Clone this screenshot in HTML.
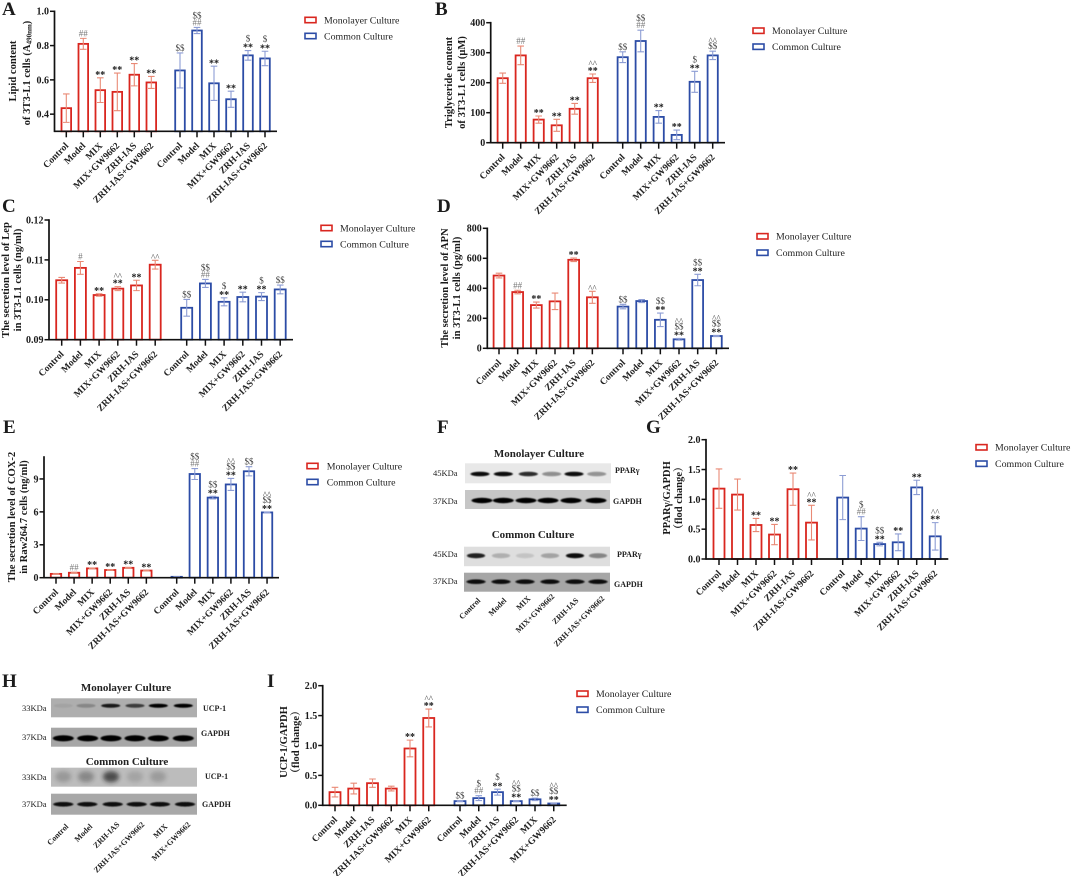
<!DOCTYPE html>
<html lang="en">
<head>
<meta charset="utf-8">
<title>Multi-panel bar chart figure</title>
<style>
html,body{margin:0;padding:0;background:#fff;}
#figure{display:block;width:1072px;height:876px;filter:blur(0.3px);}
text{font-family:"Liberation Serif","Noto Serif CJK SC",serif;}
.yl{font-size:10.6px;font-weight:bold;fill:#1a1a1a;text-anchor:middle;}
.letter{font-size:19px;font-weight:bold;fill:#1c1c1c;}
.blot-title{font-size:11px;font-weight:bold;fill:#222;text-anchor:middle;}
.kda{font-size:8.5px;fill:#222;}
.prot{font-size:8px;font-weight:bold;fill:#222;}
</style>
</head>
<body>
<svg id="figure" xmlns="http://www.w3.org/2000/svg" width="1072" height="876" viewBox="0 0 1072 876">
  <defs>
    <filter id="blur-band" x="-40%" y="-150%" width="180%" height="400%"><feGaussianBlur stdDeviation="0.9 0.6"/></filter>
    <filter id="blur-smear" x="-40%" y="-100%" width="180%" height="300%"><feGaussianBlur stdDeviation="2.2 2"/></filter>
  </defs>
  <g>
    <text class="letter" x="2" y="15">A</text>
    <text class="letter" x="435" y="15">B</text>
    <text class="letter" x="2" y="212">C</text>
    <text class="letter" x="437" y="212">D</text>
    <text class="letter" x="3" y="433">E</text>
    <text class="letter" x="437" y="433">F</text>
    <text class="letter" x="646" y="433">G</text>
    <text class="letter" x="2" y="687">H</text>
    <text class="letter" x="267" y="687">I</text>
  </g>
  <g>
    <text class="yl" transform="translate(16,71) rotate(-90)">Lipid content</text>
    <text class="yl" transform="translate(30,73) rotate(-90)">of 3T3-L1 cells (A<tspan font-size="7" dy="1.5">490nm</tspan><tspan dy="-1.5">)</tspan></text>
    <text class="yl" transform="translate(452,82.5) rotate(-90)">Triglyceride content</text>
    <text class="yl" transform="translate(465,82.5) rotate(-90)">of 3T3-L1 cells (μM)</text>
    <text class="yl" transform="translate(9,280) rotate(-90)">The secretion level of  Lep</text>
    <text class="yl" transform="translate(21,280) rotate(-90)">in 3T3-L1 cells (ng/ml)</text>
    <text class="yl" transform="translate(448,288) rotate(-90)">The secretion level of APN</text>
    <text class="yl" transform="translate(460,288) rotate(-90)">in 3T3-L1 cells (pg/ml)</text>
    <text class="yl" transform="translate(15,517) rotate(-90)">The secretion level of COX-2</text>
    <text class="yl" transform="translate(27,517) rotate(-90)">in Raw264.7 cells (ng/ml)</text>
    <text class="yl" transform="translate(670,498) rotate(-90)">PPARγ/GAPDH</text>
    <text class="yl" transform="translate(682,498) rotate(-90)">（flod change）</text>
    <text class="yl" transform="translate(287,742) rotate(-90)">UCP-1/GAPDH</text>
    <text class="yl" transform="translate(299,742) rotate(-90)">（flod change）</text>
  </g>
  <g>
    <text class="blot-title" x="539" y="457">Monolayer Culture</text>
    <text class="blot-title" x="533" y="538">Common Culture</text>
    <text class="kda" x="433" y="476">45KDa</text>
    <text class="kda" x="433" y="504">37KDa</text>
    <text class="kda" x="433" y="557">45KDa</text>
    <text class="kda" x="433" y="584">37KDa</text>
    <text class="prot" x="615" y="473">PPARγ</text>
    <text class="prot" x="613" y="504">GAPDH</text>
    <text class="prot" x="617" y="557">PPARγ</text>
    <text class="prot" x="614" y="587">GAPDH</text>
    <text class="blot-title" x="126" y="691">Monolayer Culture</text>
    <text class="blot-title" x="127" y="765">Common Culture</text>
    <text class="kda" x="22" y="711">33KDa</text>
    <text class="kda" x="22" y="740">37KDa</text>
    <text class="kda" x="22" y="780">33KDa</text>
    <text class="kda" x="22" y="807">37KDa</text>
    <text class="prot" x="203" y="711">UCP-1</text>
    <text class="prot" x="201" y="736">GAPDH</text>
    <text class="prot" x="205" y="779">UCP-1</text>
    <text class="prot" x="202" y="807">GAPDH</text>
  </g>
</svg>
<script>
// Categories
const catsMain = ["Control","Model","MIX","MIX+GW9662","ZRH-IAS","ZRH-IAS+GW9662"];
const catsUcp = ["Control","Model","ZRH-IAS","ZRH-IAS+GW9662","MIX","MIX+GW9662"];
const seriesNames = ["Monolayer Culture","Common Culture"];

// Panel A
const aTicks = ["0.4","0.6","0.8","1.0"];
const aMono = [0.435,0.81,0.54,0.53,0.63,0.585];
const aMonoErr = [0.083,0.032,0.072,0.11,0.065,0.035];
const aCommon = [0.655,0.888,0.58,0.487,0.743,0.725];
const aCommonErr = [0.102,0.018,0.1,0.047,0.028,0.042];
const aMonoMarks = [[],["##"],["**"],["**"],["**"],["**"]];
const aCommonMarks = [["$$"],["##","$$"],["**"],["**"],["**","$"],["**","$"]];

// Panel B
const bTicks = ["0","100","200","300","400"];
const bMono = [215,291,77,58,113,215];
const bMonoErr = [17,31,12,20,18,14];
const bCommon = [285,339,86,26,203,291];
const bCommonErr = [18,36,21,16,35,14];
const bMonoMarks = [[],["##"],["**"],["**"],["**"],["**","^^"]];
const bCommonMarks = [["$$"],["##","$$"],["**"],["**"],["**","$"],["$$","^^"]];

// Panel C
const cTicks = ["0.09","0.10","0.11","0.12"];
const cMono = [0.1049,0.108,0.1012,0.1028,0.1036,0.1088];
const cMonoErr = [0.0007,0.0016,0.0003,0.0005,0.0013,0.0011];
const cCommon = [0.098,0.1041,0.0995,0.1007,0.1008,0.1026];
const cCommonErr = [0.0021,0.001,0.001,0.0012,0.001,0.0011];
const cMonoMarks = [[],["#"],["**"],["**","^^"],["**"],["^^"]];
const cCommonMarks = [["$$"],["##","$$"],["**","$"],["**"],["**","$"],["$$"]];

// Panel D
const dTicks = ["0","200","400","600","800"];
const dMono = [485,375,288,313,590,340];
const dMonoErr = [16,12,20,55,12,40];
const dCommon = [278,315,190,60,455,82];
const dCommonErr = [15,10,45,6,38,4];
const dMonoMarks = [[],["##"],["**"],[],["**"],["^^"]];
const dCommonMarks = [["$$"],[],["**","$$"],["**","$$","^^"],["**","$$"],["**","$$","^^"]];

// Panel E
const eTicks = ["0","3","6","9"];
const eMono = [0.35,0.45,0.85,0.7,0.9,0.65];
const eMonoErr = [0.02,0.04,0.03,0.03,0.04,0.03];
const eCommon = [0.08,9.45,7.3,8.5,9.7,5.95];
const eCommonErr = [0.01,0.5,0.12,0.55,0.42,0.05];
const eMonoMarks = [[],["##"],["**"],["**"],["**"],["**"]];
const eCommonMarks = [[],["##","$$"],["**","$$"],["**","$$","^^"],["$$"],["**","$$","^^"]];

// Panel G
const gTicks = ["0.0","0.5","1.0","1.5","2.0"];
const gMono = [1.18,1.08,0.57,0.41,1.17,0.61];
const gMonoErr = [0.33,0.26,0.11,0.17,0.27,0.29];
const gCommon = [1.03,0.51,0.25,0.28,1.2,0.38];
const gCommonErr = [0.37,0.2,0.03,0.14,0.12,0.23];
const gMonoMarks = [[],[],["**"],["**"],["**"],["**","^^"]];
const gCommonMarks = [[],["##","$"],["**","$$"],["**"],["**"],["**","^^"]];

// Panel I
const iTicks = ["0.0","0.5","1.0","1.5","2.0"];
const iMono = [0.22,0.28,0.37,0.28,0.95,1.46];
const iMonoErr = [0.08,0.09,0.07,0.04,0.14,0.15];
const iCommon = [0.07,0.12,0.22,0.07,0.1,0.03];
const iCommonErr = [0.01,0.04,0.05,0.01,0.02,0.01];
const iMonoMarks = [[],[],[],[],["**"],["**","^^"]];
const iCommonMarks = [["$$"],["##","$"],["**","$"],["**","$$","^^"],["$$"],["**","$$","^^"]];

// Western-blot band intensities (0..1), one per lane
const fPparMono = [1,1,0.85,0.4,1,0.38];
const fGapdhMono = [1,1,1,1,1,1];
const fPparCommon = [0.9,0.22,0.12,0.28,1,0.42];
const fGapdhCommon = [1,1,1,1,1,1];
const hUcpMono = [0.06,0.22,0.85,0.65,1,1];
const hGapdhMono = [1,1,1,1,1,1];
const hUcpCommon = [0.22,0.32,0.7,0.15,0.2,0];
const hGapdhCommon = [1,1,1,1,1,1];

const NS = "http://www.w3.org/2000/svg";
const RED = "#d9261f", BLUE = "#2c4ca6", RED_ERR = "#e98a76", BLUE_ERR = "#8d9dd4";
const root = document.getElementById("figure");

function mk(parent, tag, attrs, text) {
  const el = document.createElementNS(NS, tag);
  for (const k in attrs) el.setAttribute(k, attrs[k]);
  if (text !== undefined) el.textContent = text;
  parent.appendChild(el);
  return el;
}

function rotatedLabels(parent, labels, xs, y, size, key) {
  labels.forEach(function (label, i) {
    const t = mk(parent, "text", {
      transform: "translate(" + xs[i] + "," + y[i] + ") rotate(-45)",
      "text-anchor": "end", "font-size": size, "font-weight": "bold", fill: "#222"
    }, label);
    
    
  });
}

function drawMarks(parent, marks, cx, capY, key) {
  let cur = capY - 1.5;
  marks.forEach(function (m) {
    const star = m[0] === "*";
    const caret = m[0] === "^";
    const base = star ? cur + 1.6 : (caret ? cur + 1.5 : cur - 0.5);
    const t = mk(parent, "text", {
      x: cx, y: base, "text-anchor": "middle",
      "font-size": star ? 10 : 9, "font-weight": star ? "bold" : "normal",
      fill: star ? "#1a1a1a" : (m[0] === "#" ? "#777" : "#444")
    }, m);
    
    
    cur -= 7;
  });
}

function drawSeries(g, key, color, errColor, vals, errs, marks, x, y, barW, bottom) {
  vals.forEach(function (v, i) {
    const cx = x(i);
    const top = y(v);
    const hi = y(v + errs[i]);
    const lo = Math.min(y(v - errs[i]), bottom);
    const capW = 3.3;
    const barKey = key + '-' + i;
    const bar = mk(g, "rect", { x: cx - barW / 2, y: top, width: barW, height: bottom - top, fill: "#fff", stroke: color, "stroke-width": 1.8 });
    
    
    const err = mk(g, "path", {
      d: "M" + cx + " " + lo + "V" + hi + "M" + (cx - capW) + " " + hi + "H" + (cx + capW) + "M" + (cx - capW) + " " + lo + "H" + (cx + capW),
      fill: "none", stroke: errColor, "stroke-width": 1.1
    });
    
    
    drawMarks(g, marks[i], cx, hi, barKey);
  });
}

function drawLegend(parent, key, sx, y1, y2, tx) {
  [[y1, RED, seriesNames[0]], [y2, BLUE, seriesNames[1]]].forEach(function (row, i) {
    const entry = mk(parent, "g", {});
    
    
    const sw = mk(entry, "rect", { x: sx, y: row[0] - 2.7, width: 11, height: 5.4, fill: "#fff", stroke: row[1], "stroke-width": 1.6 });
    
    
    const t = mk(entry, "text", { x: tx, y: row[0] + 3.3, "font-size": 9.9, fill: "#222" }, row[2]);
    
    
  });
}

function drawPanel(c) {
  const g = mk(root, "g", {});
  
  
  const y = function (v) { return c.bottom - (v - c.min) / (c.max - c.min) * (c.bottom - c.top); };
  const xMono = function (i) { return c.x1 + c.step * i; };
  const xCommon = function (i) { return c.x2 + c.step * i; };

  drawSeries(g, c.key + '-monolayer', RED, RED_ERR, c.mono, c.monoErr, c.monoMarks, xMono, y, c.barW, c.bottom);
  drawSeries(g, c.key + '-common', BLUE, BLUE_ERR, c.common, c.commonErr, c.commonMarks, xCommon, y, c.barW, c.bottom);

  const yAxis = mk(g, "line", { x1: c.axisX, x2: c.axisX, y1: c.top - 0.8, y2: c.bottom + 0.8, stroke: "#111", "stroke-width": 1.7 });
  
  
  const xAxis = mk(g, "line", { x1: c.axisX, x2: c.axisEnd, y1: c.bottom, y2: c.bottom, stroke: "#111", "stroke-width": 1.7 });
  
  

  c.ticks.forEach(function (label) {
    const ty = y(parseFloat(label));
    const tick = mk(g, "line", { x1: c.axisX - 4.5, x2: c.axisX, y1: ty, y2: ty, stroke: "#111", "stroke-width": 1.5 });
    
    
    const t = mk(g, "text", { x: c.axisX - 5.5, y: ty + 3.4, "text-anchor": "end", "font-size": 10, "font-weight": "bold", fill: "#1a1a1a" }, label);
    
    
  });

  const allX = c.cats.map(function (_, i) { return xMono(i); }).concat(c.cats.map(function (_, i) { return xCommon(i); }));
  allX.forEach(function (tx) {
    const tick = mk(g, "line", { x1: tx, x2: tx, y1: c.bottom, y2: c.bottom + 6, stroke: "#111", "stroke-width": 1.5 });
    
    
  });
  const labels = c.cats.concat(c.cats);
  rotatedLabels(g, labels, allX.map(function (v) { return v + 2.7; }), allX.map(function () { return c.bottom + 15; }), 9.5, c.key);
  drawLegend(g, c.key, c.legend[0], c.legend[1], c.legend[2], c.legend[3]);
}

function drawBlot(key, x, y, w, h, bg, bandY, laneX, strengths, bandW, bandH, ink, smear) {
  const g = mk(root, "g", {});
  
  
  const panel = mk(g, "rect", { x: x, y: y, width: w, height: h, fill: bg });
  
  
  strengths.forEach(function (s, i) {
    if (s <= 0) return;
    const band = mk(g, "ellipse", {
      cx: laneX[i], cy: bandY, rx: bandW / 2, ry: bandH / 2,
      fill: ink, opacity: s, filter: smear ? "url(#blur-smear)" : "url(#blur-band)"
    });
    
    
  });
}

drawPanel({ key:"a", cats:catsMain, ticks:aTicks, min:0.3, max:1.0, top:11.3, bottom:131.3, axisX:54.5, axisEnd:277, x1:66.3, x2:180, step:17, barW:9.6, mono:aMono, monoErr:aMonoErr, monoMarks:aMonoMarks, common:aCommon, commonErr:aCommonErr, commonMarks:aCommonMarks, legend:[305,20,36,324] });
drawPanel({ key:"b", cats:catsMain, ticks:bTicks, min:0, max:400, top:22.7, bottom:142.7, axisX:490.7, axisEnd:725, x1:502.7, x2:622.7, step:18, barW:10.2, mono:bMono, monoErr:bMonoErr, monoMarks:bMonoMarks, common:bCommon, commonErr:bCommonErr, commonMarks:bCommonMarks, legend:[753,30.7,46.7,772] });
drawPanel({ key:"c", cats:catsMain, ticks:cTicks, min:0.09, max:0.12, top:220, bottom:339.7, axisX:49, axisEnd:293, x1:61.7, x2:186.7, step:18.7, barW:11, mono:cMono, monoErr:cMonoErr, monoMarks:cMonoMarks, common:cCommon, commonErr:cCommonErr, commonMarks:cCommonMarks, legend:[321,228,244,340] });
drawPanel({ key:"d", cats:catsMain, ticks:dTicks, min:0, max:800, top:228.3, bottom:348.3, axisX:487.3, axisEnd:729, x1:499, x2:623, step:18.67, barW:10.8, mono:dMono, monoErr:dMonoErr, monoMarks:dMonoMarks, common:dCommon, commonErr:dCommonErr, commonMarks:dCommonMarks, legend:[757,236.3,252.7,776] });
drawPanel({ key:"e", cats:catsMain, ticks:eTicks, min:0, max:11, top:457, bottom:577.7, axisX:44, axisEnd:279, x1:56, x2:176.7, step:18.07, barW:10.4, mono:eMono, monoErr:eMonoErr, monoMarks:eMonoMarks, common:eCommon, commonErr:eCommonErr, commonMarks:eCommonMarks, legend:[307,466,482,326.7] });
drawPanel({ key:"g", cats:catsMain, ticks:gTicks, min:0, max:2, top:439.7, bottom:559, axisX:706, axisEnd:948.3, x1:719, x2:842.7, step:18.5, barW:11, mono:gMono, monoErr:gMonoErr, monoMarks:gMonoMarks, common:gCommon, commonErr:gCommonErr, commonMarks:gCommonMarks, legend:[976,447.3,463.7,995] });
drawPanel({ key:"i", cats:catsUcp, ticks:iTicks, min:0, max:2, top:685.7, bottom:805.3, axisX:322.7, axisEnd:566.7, x1:335, x2:460, step:18.75, barW:11, mono:iMono, monoErr:iMonoErr, monoMarks:iMonoMarks, common:iCommon, commonErr:iCommonErr, commonMarks:iCommonMarks, legend:[577,693.7,709.7,596] });

// Panel F blots
const fLanesTop = [480,503.3,528.3,551.7,574,596.7];
const fLanesBot = [476,501,525,550,575,598];
drawBlot("f-pparg-mono", 465, 463.3, 146, 20, "#e8e8e8", 474, fLanesTop, fPparMono, 19, 4.6, "#0c0c0c");
drawBlot("f-gapdh-mono", 465, 490, 145, 19, "#c6c6c6", 500.5, [482,503.3,526,548,571,596], fGapdhMono, 21, 5.4, "#060606");
drawBlot("f-pparg-common", 464, 546.7, 146, 19.5, "#dedede", 555.7, fLanesBot, fPparCommon, 18, 5, "#080808");
drawBlot("f-gapdh-common", 464, 572.7, 146, 19, "#a6a6a6", 581.7, fLanesBot, fGapdhCommon, 19, 4.6, "#0c0c0c");
rotatedLabels(root, catsMain, [481,507,531,555,579,605], [601,601,599,597,601,599], 8, "blot-f");

// Panel H blots
const hLanes = [63.3,86,111,135,158,183];
drawBlot("h-ucp1-mono", 51, 698.3, 146, 19, "#aeaeae", 705.7, [63.3,86,110.7,135,158.3,183.3], hUcpMono, 19, 4, "#060606");
drawBlot("h-gapdh-mono", 51, 727.7, 146, 19, "#a6a6a6", 738.3, [63.3,87.7,111,135,158.3,183.3], hGapdhMono, 21, 6.2, "#060606");
drawBlot("h-ucp1-common", 51, 767.7, 146, 19, "#bcbcbc", 776.7, hLanes, hUcpCommon, 16, 11, "#1c1c1c", true);
drawBlot("h-gapdh-common", 51, 793.7, 146, 21, "#a8a8a8", 804.3, [63.3,87.3,112.7,136.7,160,185], hGapdhCommon, 20, 4.6, "#080808");
rotatedLabels(root, catsUcp, [69,93,120,145,168,191], [827,827,825,825,827,825], 8, "blot-h");
</script>
</body>
</html>
